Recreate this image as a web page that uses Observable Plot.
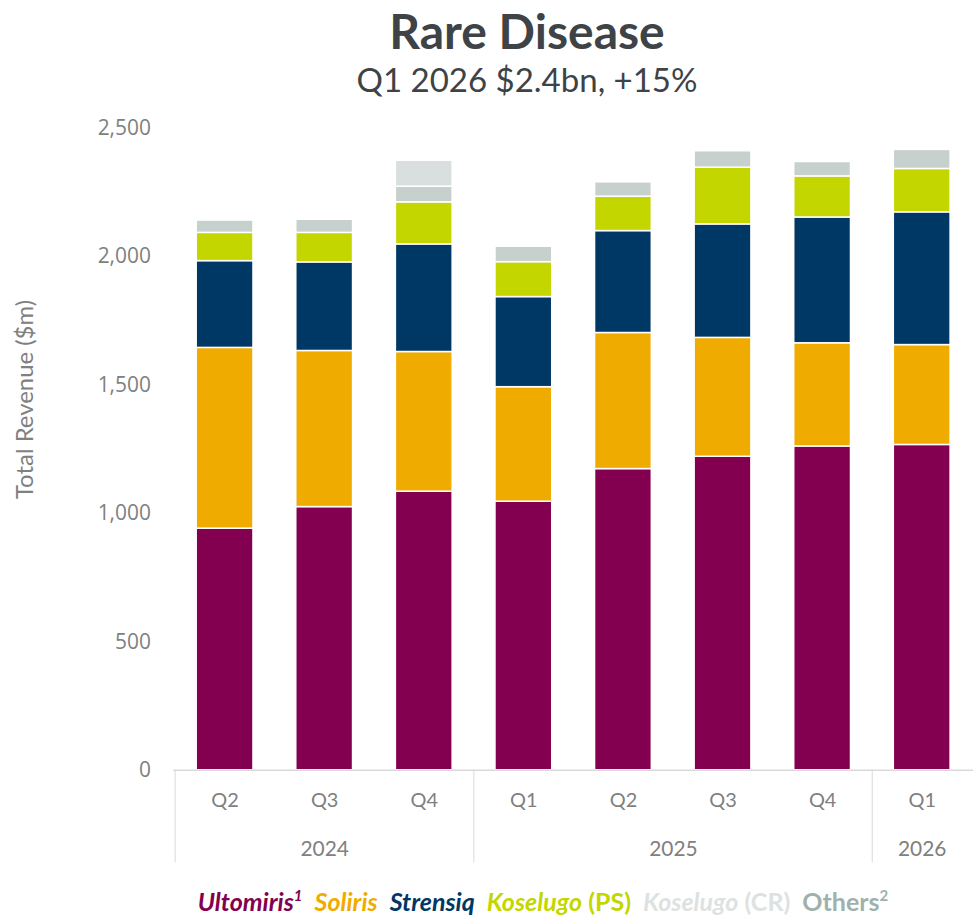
<!DOCTYPE html>
<html>
<head>
<meta charset="utf-8">
<script src="https://cdn.jsdelivr.net/npm/d3@7"></script>
<script src="https://cdn.jsdelivr.net/npm/@observablehq/plot@0.6"></script>
<style>
  html, body { margin: 0; padding: 0; background: #fff; overflow: hidden; width: 973px; height: 917px; }
  #title { height: 61px; line-height: 61px; font-family: Lato, sans-serif; font-weight: 700; font-size: 48px; color: #3d4346; text-align: center; padding-left: 81px; width: 892px; white-space: nowrap; }
  #subtitle { height: 41px; line-height: 40px; font-family: Lato, sans-serif; font-size: 33px; color: #3d4346; text-align: center; padding-left: 81px; width: 892px; white-space: nowrap; margin-top: -2px; margin-bottom: 2px; }
  #chart { height: 775px; width: 973px; overflow: hidden; }
  #chart svg { display: block; }
  #legend { height: 40px; line-height: 48px; font-family: Lato, sans-serif; font-weight: 700; font-size: 25px; text-align: center; padding-left: 113px; width: 860px; white-space: nowrap; }
  #legend span { margin: 0 6px; }
  #legend i { font-style: italic; }
  #legend sup { font-size: 15px; vertical-align: 10px; line-height: 0; }
</style>
</head>
<body>
<div id="title">Rare Disease</div>
<div id="subtitle">Q1 2026 $2.4bn, +15%</div>
<div id="chart"></div>
<div id="legend"></div>
<script>
// ---- data ----
const quarters = ["Q2 2024", "Q3 2024", "Q4 2024", "Q1 2025", "Q2 2025", "Q3 2025", "Q4 2025", "Q1 2026"];
const products = ["Ultomiris", "Soliris", "Strensiq", "Koselugo (PS)", "Others", "Koselugo (CR)"];
const ultomiris  = [941, 1025, 1085, 1046, 1173, 1221, 1261, 1267];
const soliris    = [704, 608, 544, 446, 530, 463, 402, 389];
const strensiq   = [338, 345, 419, 351, 397, 442, 490, 517];
const koselugoPS = [110, 115, 164, 136, 134, 221, 160, 169];
const others     = [48, 51, 61, 60, 56, 64, 56, 74];
const koselugoCR = [0, 0, 101, 0, 0, 0, 0, 0];
const yTicks = [0, 500, 1000, 1500, 2000, 2500];
const years = [
  {year: "2024", quarters: ["Q2 2024", "Q3 2024", "Q4 2024"]},
  {year: "2025", quarters: ["Q1 2025", "Q2 2025", "Q3 2025", "Q4 2025"]},
  {year: "2026", quarters: ["Q1 2026"]}
];

const barColors = ["#830051", "#f0ab00", "#003865", "#c4d600", "#c6d0cd", "#d9dfde"];

const seriesByProduct = {
  "Ultomiris": ultomiris, "Soliris": soliris, "Strensiq": strensiq,
  "Koselugo (PS)": koselugoPS, "Others": others, "Koselugo (CR)": koselugoCR
};
const rows = [];
for (const p of products) {
  seriesByProduct[p].forEach((v, i) => { if (v > 0) rows.push({quarter: quarters[i], product: p, value: v}); });
}

// ---- layout ----
const W = 977, H = 775, ML = 174, MR = 0, MT = 26, MB = 104.5;
const step = (W - ML - MR) / quarters.length;
const grey = "#808080";
const font = "Lato, sans-serif";

const yearMarks = years.map(g => {
  const n = g.quarters.length;
  const mid = g.quarters[Math.floor((n - 1) / 2)];
  const dx = (n % 2 === 0) ? step / 2 : 0;
  return Plot.text([g.year], {x: () => mid, text: d => d, frameAnchor: "bottom", dy: 79, dx,
    fontSize: 21, fill: grey, fontFamily: font, lineAnchor: "middle"});
});

const plot = Plot.plot({
  width: W, height: H,
  marginLeft: ML, marginRight: MR, marginTop: MT, marginBottom: MB,
  style: {fontFamily: font, background: "transparent", overflow: "visible"},
  x: {domain: quarters, paddingInner: 0.43, paddingOuter: 0.215, axis: null},
  y: {domain: [0, 2500], axis: null},
  color: {domain: products, range: barColors},
  marks: [
    Plot.barY(rows, {x: "quarter", y: "value", fill: "product", order: products, stroke: "white", strokeWidth: 1.5}),
    Plot.ruleY([0], {stroke: "#d9d9d9", strokeWidth: 1.5}),
    Plot.axisY(yTicks, {anchor: "left", tickSize: 0, tickPadding: 23, tickFormat: d3.format(","),
      fontSize: 21, fill: grey, fontFamily: "Open Sans, sans-serif", label: null}),
    Plot.text(["Total Revenue ($m)"], {frameAnchor: "left", dx: -149, dy: -50, rotate: -90,
      textAnchor: "middle", fontSize: 24, fill: grey, fontFamily: font, text: d => d}),
    Plot.axisX(["Q2 2024", "Q1 2025", "Q1 2026"], {anchor: "bottom", tickSize: 93, dx: -step / 2,
      stroke: "#d9d9d9", tickFormat: () => "", label: null}),
    Plot.text(quarters, {x: d => d, text: d => d.split(" ")[0], frameAnchor: "bottom", dy: 31,
      fontSize: 20, fill: grey, fontFamily: font, lineAnchor: "middle"}),
    ...yearMarks
  ]
});
document.getElementById("chart").appendChild(plot);

// ---- legend (HTML, below the SVG) ----
const legendItems = [
  {html: "<i>Ultomiris</i><sup><i>1</i></sup>", color: "#830051"},
  {html: "<i>Soliris</i>", color: "#f0ab00"},
  {html: "<i>Strensiq</i>", color: "#003865"},
  {html: "<i>Koselugo</i> (PS)", color: "#c4d600"},
  {html: "<i>Koselugo</i> (CR)", color: "#dde2e1"},
  {html: "Others<sup>2</sup>", color: "#9fb1ac"}
];
const legend = document.getElementById("legend");
legend.innerHTML = legendItems.map(d => `<span style="color:${d.color}">${d.html}</span>`).join("");
</script>
</body>
</html>
